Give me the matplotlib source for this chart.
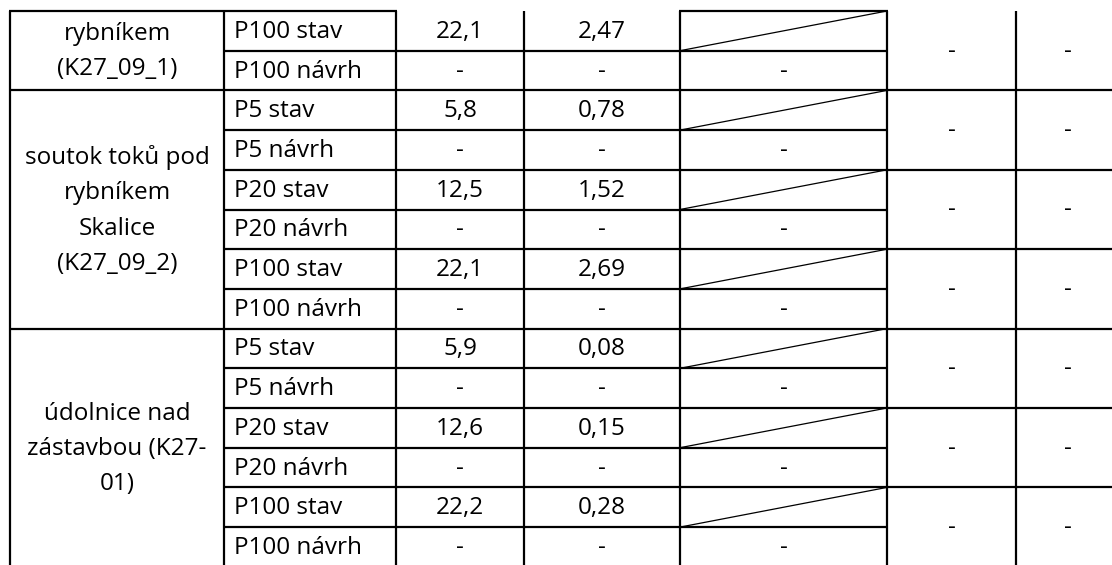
import matplotlib.pyplot as plt

# data
groups = ["rybníkem\n(K27_09_1)",
          "soutok toků pod\nrybníkem\nSkalice\n(K27_09_2)",
          "údolnice nad\nzástavbou (K27-\n01)"]
group_rows = [2, 6, 6]
row_labels = ["P100 stav", "P100 návrh",
              "P5 stav", "P5 návrh", "P20 stav", "P20 návrh", "P100 stav", "P100 návrh",
              "P5 stav", "P5 návrh", "P20 stav", "P20 návrh", "P100 stav", "P100 návrh"]
q_values = ["22,1", "-", "5,8", "-", "12,5", "-", "22,1", "-",
            "5,9", "-", "12,6", "-", "22,2", "-"]
v_values = ["2,47", "-", "0,78", "-", "1,52", "-", "2,69", "-",
            "0,08", "-", "0,15", "-", "0,28", "-"]
e_values = [None, "-"] * 7
f_values = ["-"] * 7
g_values = ["-"] * 7

plt.rcParams['font.family'] = ['Open Sans', 'DejaVu Sans']
fs = 17.5

W, H = 1112, 565
fig = plt.figure(figsize=(W / 100, H / 100), dpi=100)
ax = fig.add_axes([0, 0, 1, 1])
ax.set_xlim(0, W)
ax.set_ylim(H, 0)
ax.axis('off')

xs = [10, 224, 396, 524, 680, 887, 1016, 1120]
top = 11
rh = 39.7
lw = 1.6
n = len(row_labels)
ys = [top + i * rh for i in range(n + 1)]

def hline(y, x0, x1, w=lw):
    ax.plot([x0, x1], [y, y], color='black', lw=w, solid_capstyle='butt')

# vertical lines
for x in xs[:-1]:
    ax.plot([x, x], [top, H + 5], color='black', lw=lw, solid_capstyle='butt')

# top border (partial, as in reference)
hline(top, xs[0] - 1, xs[2] + 1)
hline(top, xs[4] - 1, xs[5] + 1)

# group boundaries
starts = [0]
for g in group_rows:
    starts.append(starts[-1] + g)
for s in starts[1:-1]:
    hline(ys[s], xs[0], W)

for i in range(1, n):
    if i in starts:
        continue
    if i % 2 == 1:
        hline(ys[i], xs[1], xs[5])
    else:
        hline(ys[i], xs[1], W)

# group labels
for gi, label in enumerate(groups):
    y0 = ys[starts[gi]]
    y1 = ys[starts[gi + 1]]
    ax.text((xs[0] + xs[1]) / 2, (y0 + y1) / 2 + 1, label, ha='center', va='center',
            fontsize=fs, linespacing=1.62)

for i in range(n):
    yc = (ys[i] + ys[i + 1]) / 2 + 1
    ax.text(xs[1] + 10, yc, row_labels[i], ha='left', va='center', fontsize=fs)
    ax.text((xs[2] + xs[3]) / 2, yc, q_values[i], ha='center', va='center', fontsize=fs)
    ax.text((xs[3] + xs[4]) / 2, yc, v_values[i], ha='center', va='center', fontsize=fs)
    if e_values[i] is None:
        ax.plot([xs[4], xs[5]], [ys[i + 1], ys[i]], color='black', lw=0.9)
    else:
        ax.text((xs[4] + xs[5]) / 2, yc, e_values[i], ha='center', va='center', fontsize=fs)

for p in range(n // 2):
    yc = ys[2 * p + 1] + 1
    ax.text((xs[5] + xs[6]) / 2, yc, f_values[p], ha='center', va='center', fontsize=fs)
    ax.text((xs[6] + xs[7]) / 2, yc, g_values[p], ha='center', va='center', fontsize=fs)

fig.savefig('out.png', dpi=100)
